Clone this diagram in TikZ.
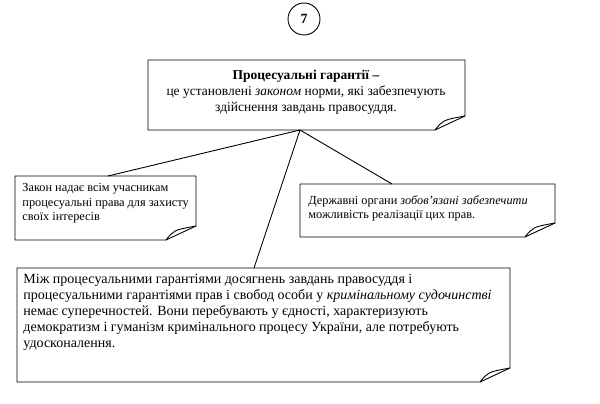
\documentclass[tikz,border=0pt]{standalone}
\usepackage{fontspec}
\setmainfont{Liberation Serif}
\begin{document}
\begin{tikzpicture}[x=1pt,y=-1pt,line width=0.9pt,
  txt/.style={anchor=north west,align=left,inner sep=0pt,font=\fontsize{14}{16}\selectfont},
  stxt/.style={anchor=north west,align=left,inner sep=0pt,font=\fontsize{12.3}{14.5}\selectfont}]
\useasboundingbox (0,0) rectangle (600,404);
\newcommand{\curlbox}[4]{%
  \draw (#1,#2) -- (#3,#2) -- (#3,#4-14) -- (#3-30,#4) -- (#1,#4) -- cycle;
  \draw (#3-30,#4) .. controls (#3-22,#4-10) .. (#3,#4-14);}
\node[circle,draw,minimum size=32pt,inner sep=0pt,font=\bfseries\fontsize{14}{16}\selectfont] (num) at (304,19) {7};
\curlbox{148}{60}{465}{130}
\curlbox{15}{176}{196}{240}
\curlbox{300}{184}{555}{237}
\curlbox{17}{268}{510}{382}
\node[align=center,inner sep=0pt,font=\fontsize{13.5}{16}\selectfont] (top) at (306,92)
  {\textbf{Процесуальні гарантії –}\\це установлені \textit{законом} норми, які забезпечують\\здійснення завдань правосуддя.};
\node[stxt] (left) at (22,183) {Закон надає всім учасникам\\процесуальні права для захисту\\своїх інтересів};
\node[stxt] (right) at (308,195) {Державні органи \textit{зобов'язані забезпечити}\\можливість реалізації цих прав.};
\node[txt] (bottom) at (23,274) {Між процесуальними гарантіями досягнень завдань правосуддя і\\процесуальними гарантіями прав і свобод особи у \textit{кримінальному судочинстві}\\немає суперечностей. Вони перебувають у єдності, характеризують\\демократизм і гуманізм кримінального процесу України, але потребують\\удосконалення.};
\coordinate (hub) at (300,130);
\coordinate (lt) at (108,176);
\coordinate (rt) at (392,184);
\coordinate (bt) at (254,268);
\draw (hub) -- (lt);
\draw (hub) -- (rt);
\draw (hub) -- (bt);
\end{tikzpicture}
\end{document}
